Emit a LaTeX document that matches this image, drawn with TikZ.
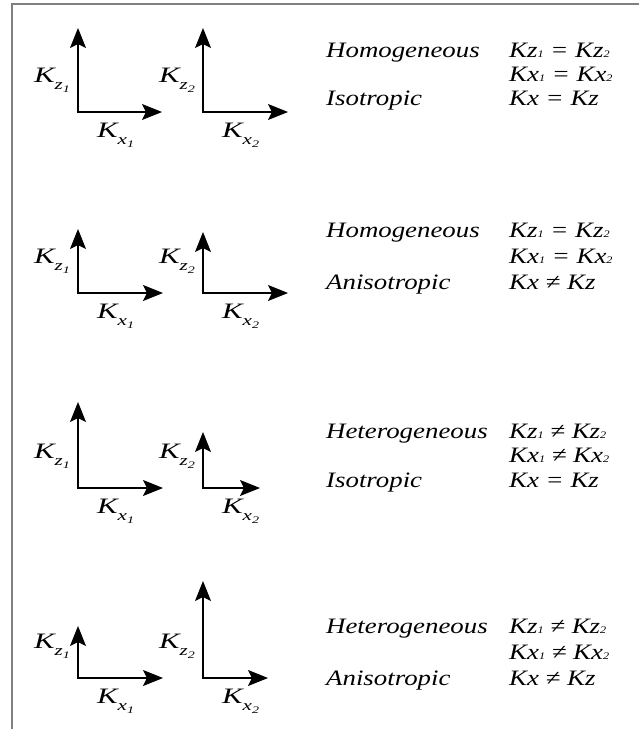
\documentclass[tikz,border=0pt]{standalone}
\usepackage{fontspec}
\setmainfont{Liberation Serif}
\newfontfamily\txtfont[FakeStretch=1.22]{Liberation Serif}
\newfontfamily\labfont[FakeStretch=1.4]{Liberation Serif}
\usetikzlibrary{arrows.meta}

% axis label K_{z_1} and equation term Kz1
\newcommand{\kl}[2]{K\raisebox{-7pt}{\fontsize{15}{15}\selectfont#1\raisebox{-3pt}{\fontsize{10}{10}\selectfont#2}}}
\newcommand{\kq}[2]{K#1{\fontsize{10}{10}\selectfont#2}}

\begin{document}
\begin{tikzpicture}[x=1pt,y=-1pt,
axis/.style={black,line width=1.2pt,{Stealth[length=20pt,width=16pt,inset=4pt]}-{Stealth[length=20pt,width=16pt,inset=4pt]}},
zlab/.style={anchor=base east,inner sep=0pt,font=\labfont\itshape\fontsize{22}{22}\selectfont},
xlab/.style={anchor=base west,inner sep=0pt,font=\labfont\itshape\fontsize{22}{22}\selectfont},
txt/.style={anchor=base west,inner sep=0pt,font=\txtfont\itshape\fontsize{22}{22}\selectfont}]
\useasboundingbox (0,0) rectangle (639,729);
\draw [gray,line width=2pt] (12,729) -- (12,4) -- (639,4);
% panel 1
\coordinate (oa1) at (78,112);
\coordinate (za1) at (78,28);
\coordinate (xa1) at (162,112);
\coordinate (oa2) at (203,112);
\coordinate (za2) at (203,28);
\coordinate (xa2) at (288,112);
\draw [axis] (za1) -- (oa1) -- (xa1);
\draw [axis] (za2) -- (oa2) -- (xa2);
\node [zlab] (kza1) at (70,82) {\kl{z}{1}};
\node [xlab] (kxa1) at (97,137) {\kl{x}{1}};
\node [zlab] (kza2) at (195,82) {\kl{z}{2}};
\node [xlab] (kxa2) at (222,137) {\kl{x}{2}};
\node [txt] (ma) at (326,57) {Homogeneous};
\node [txt] (ia) at (326,105) {Isotropic};
\node [txt] (eza) at (509,57) {\kq{z}{1} = \kq{z}{2}};
\node [txt] (exa) at (509,81) {\kq{x}{1} = \kq{x}{2}};
\node [txt] (eka) at (509,105) {Kx = Kz};
% panel 2
\coordinate (ob1) at (78,293);
\coordinate (zb1) at (78,229);
\coordinate (xb1) at (163,293);
\coordinate (ob2) at (203,293);
\coordinate (zb2) at (203,232);
\coordinate (xb2) at (288,293);
\draw [axis] (zb1) -- (ob1) -- (xb1);
\draw [axis] (zb2) -- (ob2) -- (xb2);
\node [zlab] (kzb1) at (70,263) {\kl{z}{1}};
\node [xlab] (kxb1) at (97,318) {\kl{x}{1}};
\node [zlab] (kzb2) at (195,263) {\kl{z}{2}};
\node [xlab] (kxb2) at (222,318) {\kl{x}{2}};
\node [txt] (mb) at (326,237) {Homogeneous};
\node [txt] (ib) at (326,289) {Anisotropic};
\node [txt] (ezb) at (509,237) {\kq{z}{1} = \kq{z}{2}};
\node [txt] (exb) at (509,263) {\kq{x}{1} = \kq{x}{2}};
\node [txt] (ekb) at (509,289) {Kx ≠ Kz};
% panel 3
\coordinate (oc1) at (78,488);
\coordinate (zc1) at (78,402);
\coordinate (xc1) at (163,488);
\coordinate (oc2) at (203,488);
\coordinate (zc2) at (203,432);
\coordinate (xc2) at (260,488);
\draw [axis] (zc1) -- (oc1) -- (xc1);
\draw [axis] (zc2) -- (oc2) -- (xc2);
\node [zlab] (kzc1) at (70,458) {\kl{z}{1}};
\node [xlab] (kxc1) at (97,513) {\kl{x}{1}};
\node [zlab] (kzc2) at (195,458) {\kl{z}{2}};
\node [xlab] (kxc2) at (222,513) {\kl{x}{2}};
\node [txt] (mc) at (326,438) {Heterogeneous};
\node [txt] (ic) at (326,487) {Isotropic};
\node [txt] (ezc) at (509,438) {\kq{z}{1} ≠ \kq{z}{2}};
\node [txt] (exc) at (509,462) {\kq{x}{1} ≠ \kq{x}{2}};
\node [txt] (ekc) at (509,487) {Kx = Kz};
% panel 4
\coordinate (od1) at (78,678);
\coordinate (zd1) at (78,626);
\coordinate (xd1) at (163,678);
\coordinate (od2) at (203,678);
\coordinate (zd2) at (203,581);
\coordinate (xd2) at (268,678);
\draw [axis] (zd1) -- (od1) -- (xd1);
\draw [axis] (zd2) -- (od2) -- (xd2);
\node [zlab] (kzd1) at (70,648) {\kl{z}{1}};
\node [xlab] (kxd1) at (97,703) {\kl{x}{1}};
\node [zlab] (kzd2) at (195,648) {\kl{z}{2}};
\node [xlab] (kxd2) at (222,703) {\kl{x}{2}};
\node [txt] (md) at (326,633) {Heterogeneous};
\node [txt] (id) at (326,685) {Anisotropic};
\node [txt] (ezd) at (509,633) {\kq{z}{1} ≠ \kq{z}{2}};
\node [txt] (exd) at (509,659) {\kq{x}{1} ≠ \kq{x}{2}};
\node [txt] (ekd) at (509,685) {Kx ≠ Kz};
\end{tikzpicture}
\end{document}
